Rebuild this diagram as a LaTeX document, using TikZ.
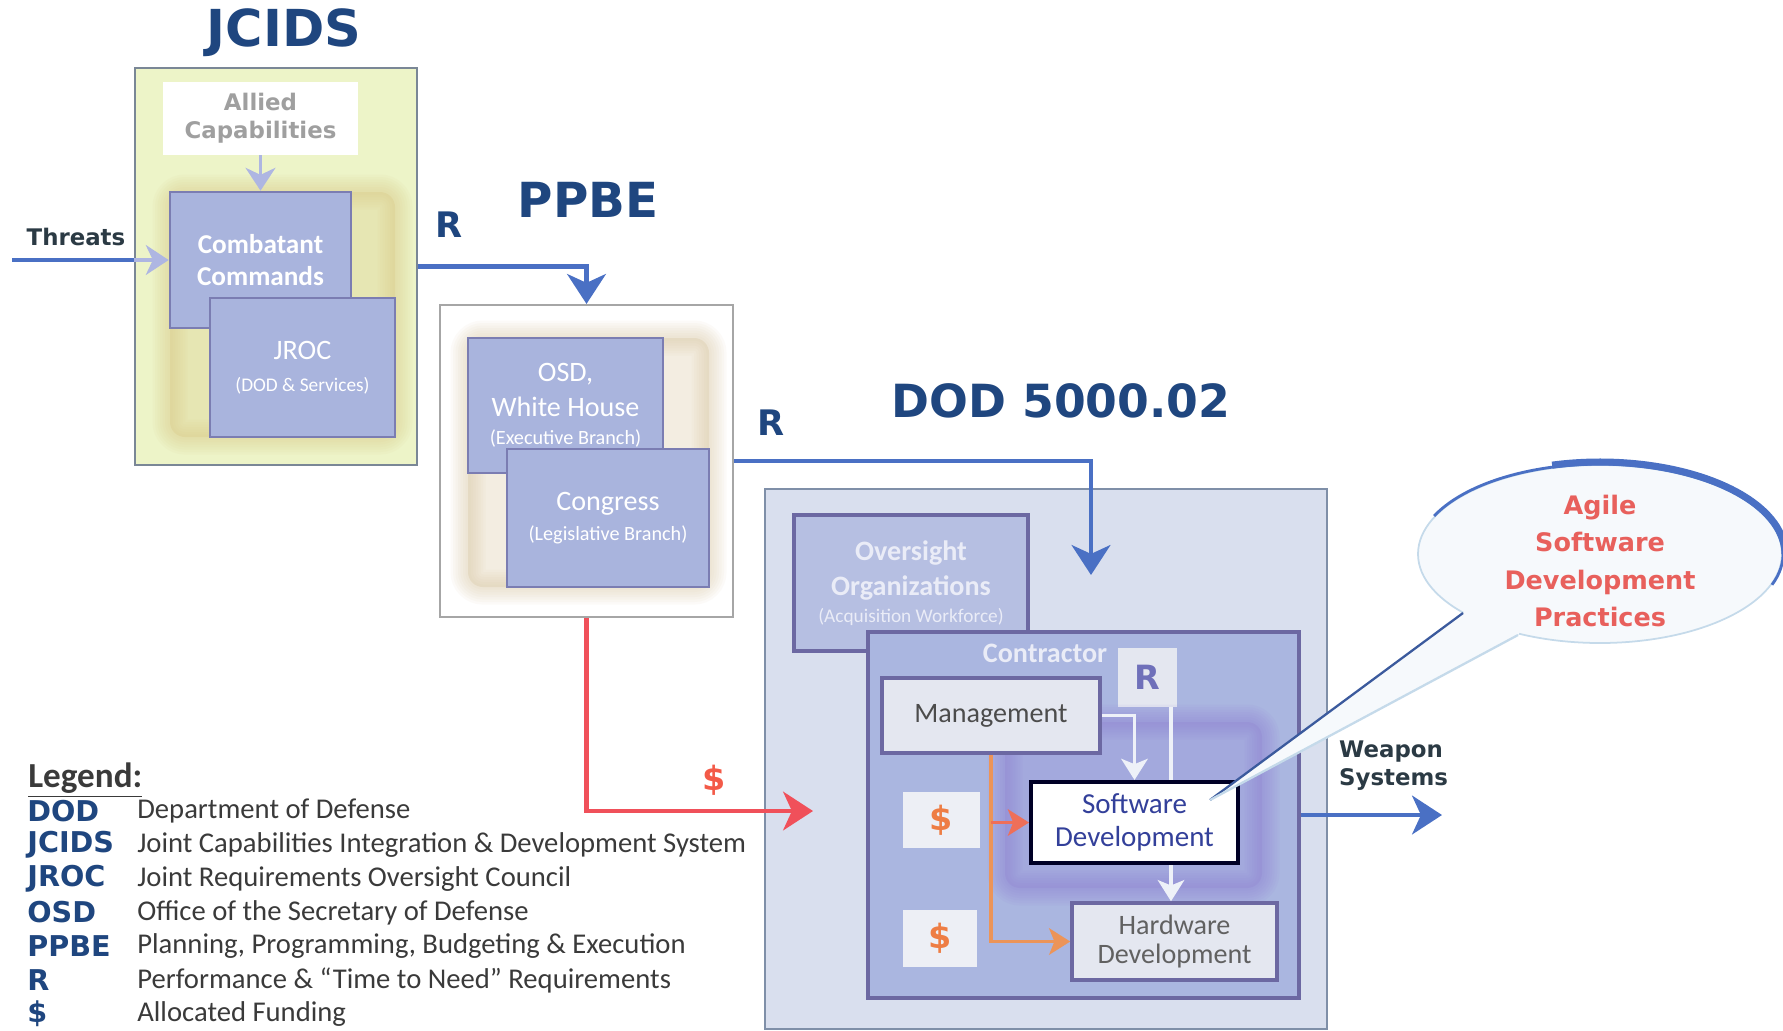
\documentclass[tikz,border=0pt]{standalone}
\usepackage{fontspec}
\setmainfont{Carlito}
\newfontfamily\heavyfont{DejaVu Sans}
\usetikzlibrary{arrows.meta,positioning,shapes.geometric,calc}
\newcommand{\fsz}[2]{\fontsize{#1}{#2}\selectfont}
% soft glow behind a group of boxes
\newcommand{\glowbox}[4]{%
  \fill[#1,opacity=#4,rounded corners=3mm] #2 rectangle #3;
  \foreach \w in {1mm,2mm,3mm,4mm,5mm,6mm,7mm}{\draw[#1,opacity=.07,line width=\w,rounded corners=3mm] #2 rectangle #3;}}
\definecolor{navy}{HTML}{1F467F}
\definecolor{rblue}{HTML}{4A70C4}
\definecolor{lav}{HTML}{A9B4DD}
\definecolor{lavline}{HTML}{7B7DB2}
\definecolor{lavarr}{HTML}{AEB6E2}
\definecolor{jcidsbg}{HTML}{EDF4C8}
\definecolor{framegray}{HTML}{7A8796}
\definecolor{glowy}{HTML}{D9C784}
\definecolor{glowt}{HTML}{D8C49C}
\definecolor{glowp}{HTML}{8E7CD6}
\definecolor{dodbg}{HTML}{D9DFEE}
\definecolor{dodline}{HTML}{7F8FA8}
\definecolor{contrbg}{HTML}{AAB6E0}
\definecolor{boxline}{HTML}{6C68A2}
\definecolor{paleb}{HTML}{E4E7F0}
\definecolor{chipbg}{HTML}{EDEFF5}
\definecolor{paleln}{HTML}{EEF1F8}
\definecolor{fundred}{HTML}{F0505A}
\definecolor{orng}{HTML}{EC9458}
\definecolor{dollar}{HTML}{EE7D44}
\definecolor{agile}{HTML}{E8605C}
\definecolor{txtgray}{HTML}{3A3A3A}
\definecolor{slate}{HTML}{2B3A44}
\definecolor{swtxt}{HTML}{33409A}
\definecolor{bubblebg}{HTML}{F6F9FC}
\definecolor{bubbleln}{HTML}{C5DAEA}

\begin{document}
\begin{tikzpicture}[>=Stealth,
  bigtitle/.style={font=\heavyfont\bfseries\fsz{26}{30},text=navy},
  reqtag/.style={font=\heavyfont\bfseries\fsz{20}{24},text=navy},
  heavytxt/.style={font=\heavyfont\bfseries\fsz{13}{16},align=center},
  lavbox/.style={draw=lavline,line width=1.5pt,fill=lav,text=white,align=center,inner sep=0pt},
  palebox/.style={draw=boxline,line width=2pt,fill=paleb,align=center,inner sep=0pt},
  chip/.style={fill=chipbg,inner sep=0pt,font=\heavyfont\bfseries\fsz{19}{22}},
  rarrow/.style={rblue,line width=2.8pt,-{Stealth[length=17pt,width=22pt,inset=5pt]}},
  farrow/.style={fundred,line width=2.4pt,-{Stealth[length=17pt,width=22pt,inset=5pt]}},
  lavarrow/.style={lavarr,line width=2pt,-{Stealth[length=13pt,width=17pt,inset=4pt]}},
  fundarrow/.style={orng,line width=2.2pt,-{Stealth[length=12pt,width=15pt,inset=3pt]}},
  reqarrow/.style={paleln,line width=2.2pt,-{Stealth[length=12pt,width=15pt,inset=3pt]}},
  legab/.style={anchor=west,inner sep=0pt,font=\heavyfont\bfseries\fsz{16.3}{20},text=navy},
  legds/.style={anchor=west,inner sep=0pt,font=\fsz{16.3}{19},text=txtgray}]
\useasboundingbox (0,0) rectangle (35.66,-20.60);

% JCIDS
\node[bigtitle,font=\heavyfont\bfseries\fsz{29}{33}] (jcidsT) at (5.68,-0.66) {JCIDS};
\node[draw=framegray,line width=1.2pt,fill=jcidsbg,minimum width=5.64cm,minimum height=7.94cm] (jcids) at (5.52,-5.33) {};
\node[fill=white,minimum width=3.9cm,minimum height=1.46cm,heavytxt,text=gray!75] (allied) at (5.21,-2.37) {Allied\\Capabilities};
\glowbox{glowy}{(3.40,-3.84)}{(7.90,-8.74)}{.3}
\node[lavbox,minimum width=3.62cm,minimum height=2.72cm,font=\bfseries\fsz{15.5}{18}] (comb) at (5.21,-5.20) {Combatant\\Commands};
\node[lavbox,minimum width=3.70cm,minimum height=2.78cm,font=\fsz{16}{18}] (jroc) at (6.05,-7.35) {JROC\\{\fsz{11}{13}(DOD \& Services)}};
\draw[lavarrow] (allied.south) -- (comb.north);

% threats in
\coordinate (thr) at (0.24,-5.20);
\node[heavytxt,text=slate] (threats) at (1.52,-4.74) {Threats};
\draw[rblue,line width=2.8pt] (thr) -- (thr -| jcids.west);
\draw[lavarrow] (thr -| jcids.west) -- (comb.west);

% PPBE
\node[reqtag] (r1) at (8.98,-4.50) {R};
\node[bigtitle,font=\heavyfont\bfseries\fsz{27.5}{31}] (ppbeT) at (11.76,-4.00) {PPBE};
\node[draw=gray!70,line width=1.2pt,fill=white,minimum width=5.86cm,minimum height=6.24cm] (ppbe) at (11.73,-9.22) {};
\glowbox{glowt}{(9.36,-6.76)}{(14.18,-11.74)}{.3}
\node[lavbox,minimum width=3.90cm,minimum height=2.70cm,font=\fsz{16}{20}] (osd) at (11.31,-8.11) {OSD,\\White House\\[-4pt]{\fsz{11.5}{14}(Executive Branch)}};
\node[lavbox,minimum width=4.04cm,minimum height=2.76cm,font=\fsz{16}{17}] (cong) at (12.16,-10.36) {Congress\\{\fsz{11.5}{14}(Legislative Branch)}};
\draw[rarrow] (jcids.east) -| (ppbe.north);

% DOD 5000.02
\node[reqtag] (r2) at (15.42,-8.46) {R};
\node[bigtitle] (dodT) at (21.22,-8.02) {DOD 5000.02};
\node[draw=dodline,line width=1.2pt,fill=dodbg,minimum width=11.24cm,minimum height=10.80cm] (dod) at (20.92,-15.18) {};
\node[lavbox,draw=boxline,line width=2pt,fill=lav!85!white,text=white!75!lav,minimum width=4.68cm,minimum height=2.72cm,font=\bfseries\fsz{16}{20}] (overs) at (18.22,-11.66) {Oversight\\Organizations\\[-5pt]{\mdseries\fsz{11}{13}(Acquisition Workforce)}};
\node[draw=boxline,line width=2pt,fill=contrbg,minimum width=8.62cm,minimum height=7.32cm] (contr) at (21.67,-16.30) {};
\node[font=\bfseries\fsz{16}{18},text=white!75!lav] (contrT) at (20.90,-13.06) {Contractor};
\node[chip,fill=paleb,text=lavline!90!blue,minimum size=1.18cm] (rbox) at (22.95,-13.55) {R};
\glowbox{glowp}{(20.10,-14.44)}{(25.24,-17.76)}{.22}
\node[palebox,minimum width=4.36cm,minimum height=1.50cm,font=\fsz{16}{18},text=black!70] (mgmt) at (19.82,-14.31) {Management};
\node[chip,text=dollar,minimum width=1.54cm,minimum height=1.12cm] (dol1) at (18.83,-16.40) {\$};
\node[chip,text=dollar,minimum width=1.48cm,minimum height=1.14cm] (dol2) at (18.80,-18.77) {\$};
\node[draw=black!85!blue,line width=2.3pt,fill=white,minimum width=4.14cm,minimum height=1.62cm,align=center,inner sep=0pt,font=\fsz{16.5}{18.5},text=swtxt] (sw) at (22.69,-16.45) {Software\\Development};
\node[palebox,minimum width=4.10cm,minimum height=1.54cm,font=\fsz{16}{16},text=black!62] (hw) at (23.49,-18.83) {Hardware\\Development};

% requirements and funding inside
\coordinate (rr) at ([xshift=4.7mm]rbox.south);
\draw[reqarrow] (mgmt.east) -| (sw.north);
\draw[paleln,line width=2.2pt] (rr) -- (rr |- sw.north);
\draw[reqarrow] (rr |- sw.south) -- (rr |- hw.north);
\draw[fundarrow] (mgmt.south) |- (hw.west);
\draw[fundarrow,fundred!55!orng] (mgmt.south |- sw.west) -- (sw.west);

% flows between processes
\coordinate (rtip) at (21.82,-11.50);
\coordinate (ftip) at (16.26,-16.22);
\coordinate (wtip) at (28.84,-16.30);
\draw[rarrow] (ppbe.east) -| (rtip);
\draw[farrow] (ppbe.south) |- (ftip);
\node[font=\heavyfont\bfseries\fsz{19}{22},text=fundred!80!orange] (fundT) at (14.28,-15.60) {\$};
\draw[rarrow] (contr.east) -- (wtip);
\node[heavytxt,align=left,anchor=west,text=slate] (weapon) at (26.66,-15.32) {Weapon\\Systems};

% callout
\coordinate (tailtip) at ([shift={(-0.60,-0.40)}]sw.north east);
\node[ellipse,draw=bubbleln,line width=1pt,fill=bubblebg,minimum width=7.28cm,minimum height=3.56cm] (bubble) at (32.00,-11.08) {};
\fill[bubblebg] (tailtip) -- (29.26,-12.26) -- (29.8,-11.9) -- (30.6,-12.3) -- (30.36,-12.70) -- cycle;
\draw[rblue!80!black,line width=1.3pt] (tailtip) -- (29.26,-12.26);
\draw[bubbleln,line width=1.3pt] (tailtip) -- (30.36,-12.70);
\draw[rblue,line width=1.6pt] ([shift={(155:3.66 and 1.80)}]bubble.center) arc[start angle=155,end angle=-20,x radius=3.66,y radius=1.80];
\draw[rblue,line width=4pt] ([shift={(105:3.70 and 1.84)}]bubble.center) arc[start angle=105,end angle=0,x radius=3.70,y radius=1.84];
\node[font=\heavyfont\bfseries\fsz{14.5}{21.3},text=agile,align=center] (agileT) at (32.00,-11.22) {Agile\\Software\\Development\\Practices};

% legend
\node[anchor=west,inner sep=0pt,font=\bfseries\fsz{20}{24},text=txtgray] (legT) at (0.56,-15.60) {\underline{Legend:}};
\foreach \ab/\ds [count=\i] in {DOD/Department of Defense,
  JCIDS/Joint Capabilities Integration \& Development System,
  JROC/Joint Requirements Oversight Council,
  OSD/Office of the Secretary of Defense,
  PPBE/{Planning, Programming, Budgeting \& Execution},
  R/Performance \& “Time to Need” Requirements,
  \$/Allocated Funding}{
  \node[legab] (ab\i) at (0.54,{-16.22-0.676*(\i-1)}) {\ab};
  \node[legds] (ds\i) at (2.74,{-16.22-0.676*(\i-1)}) {\ds};
}
\end{tikzpicture}
\end{document}
